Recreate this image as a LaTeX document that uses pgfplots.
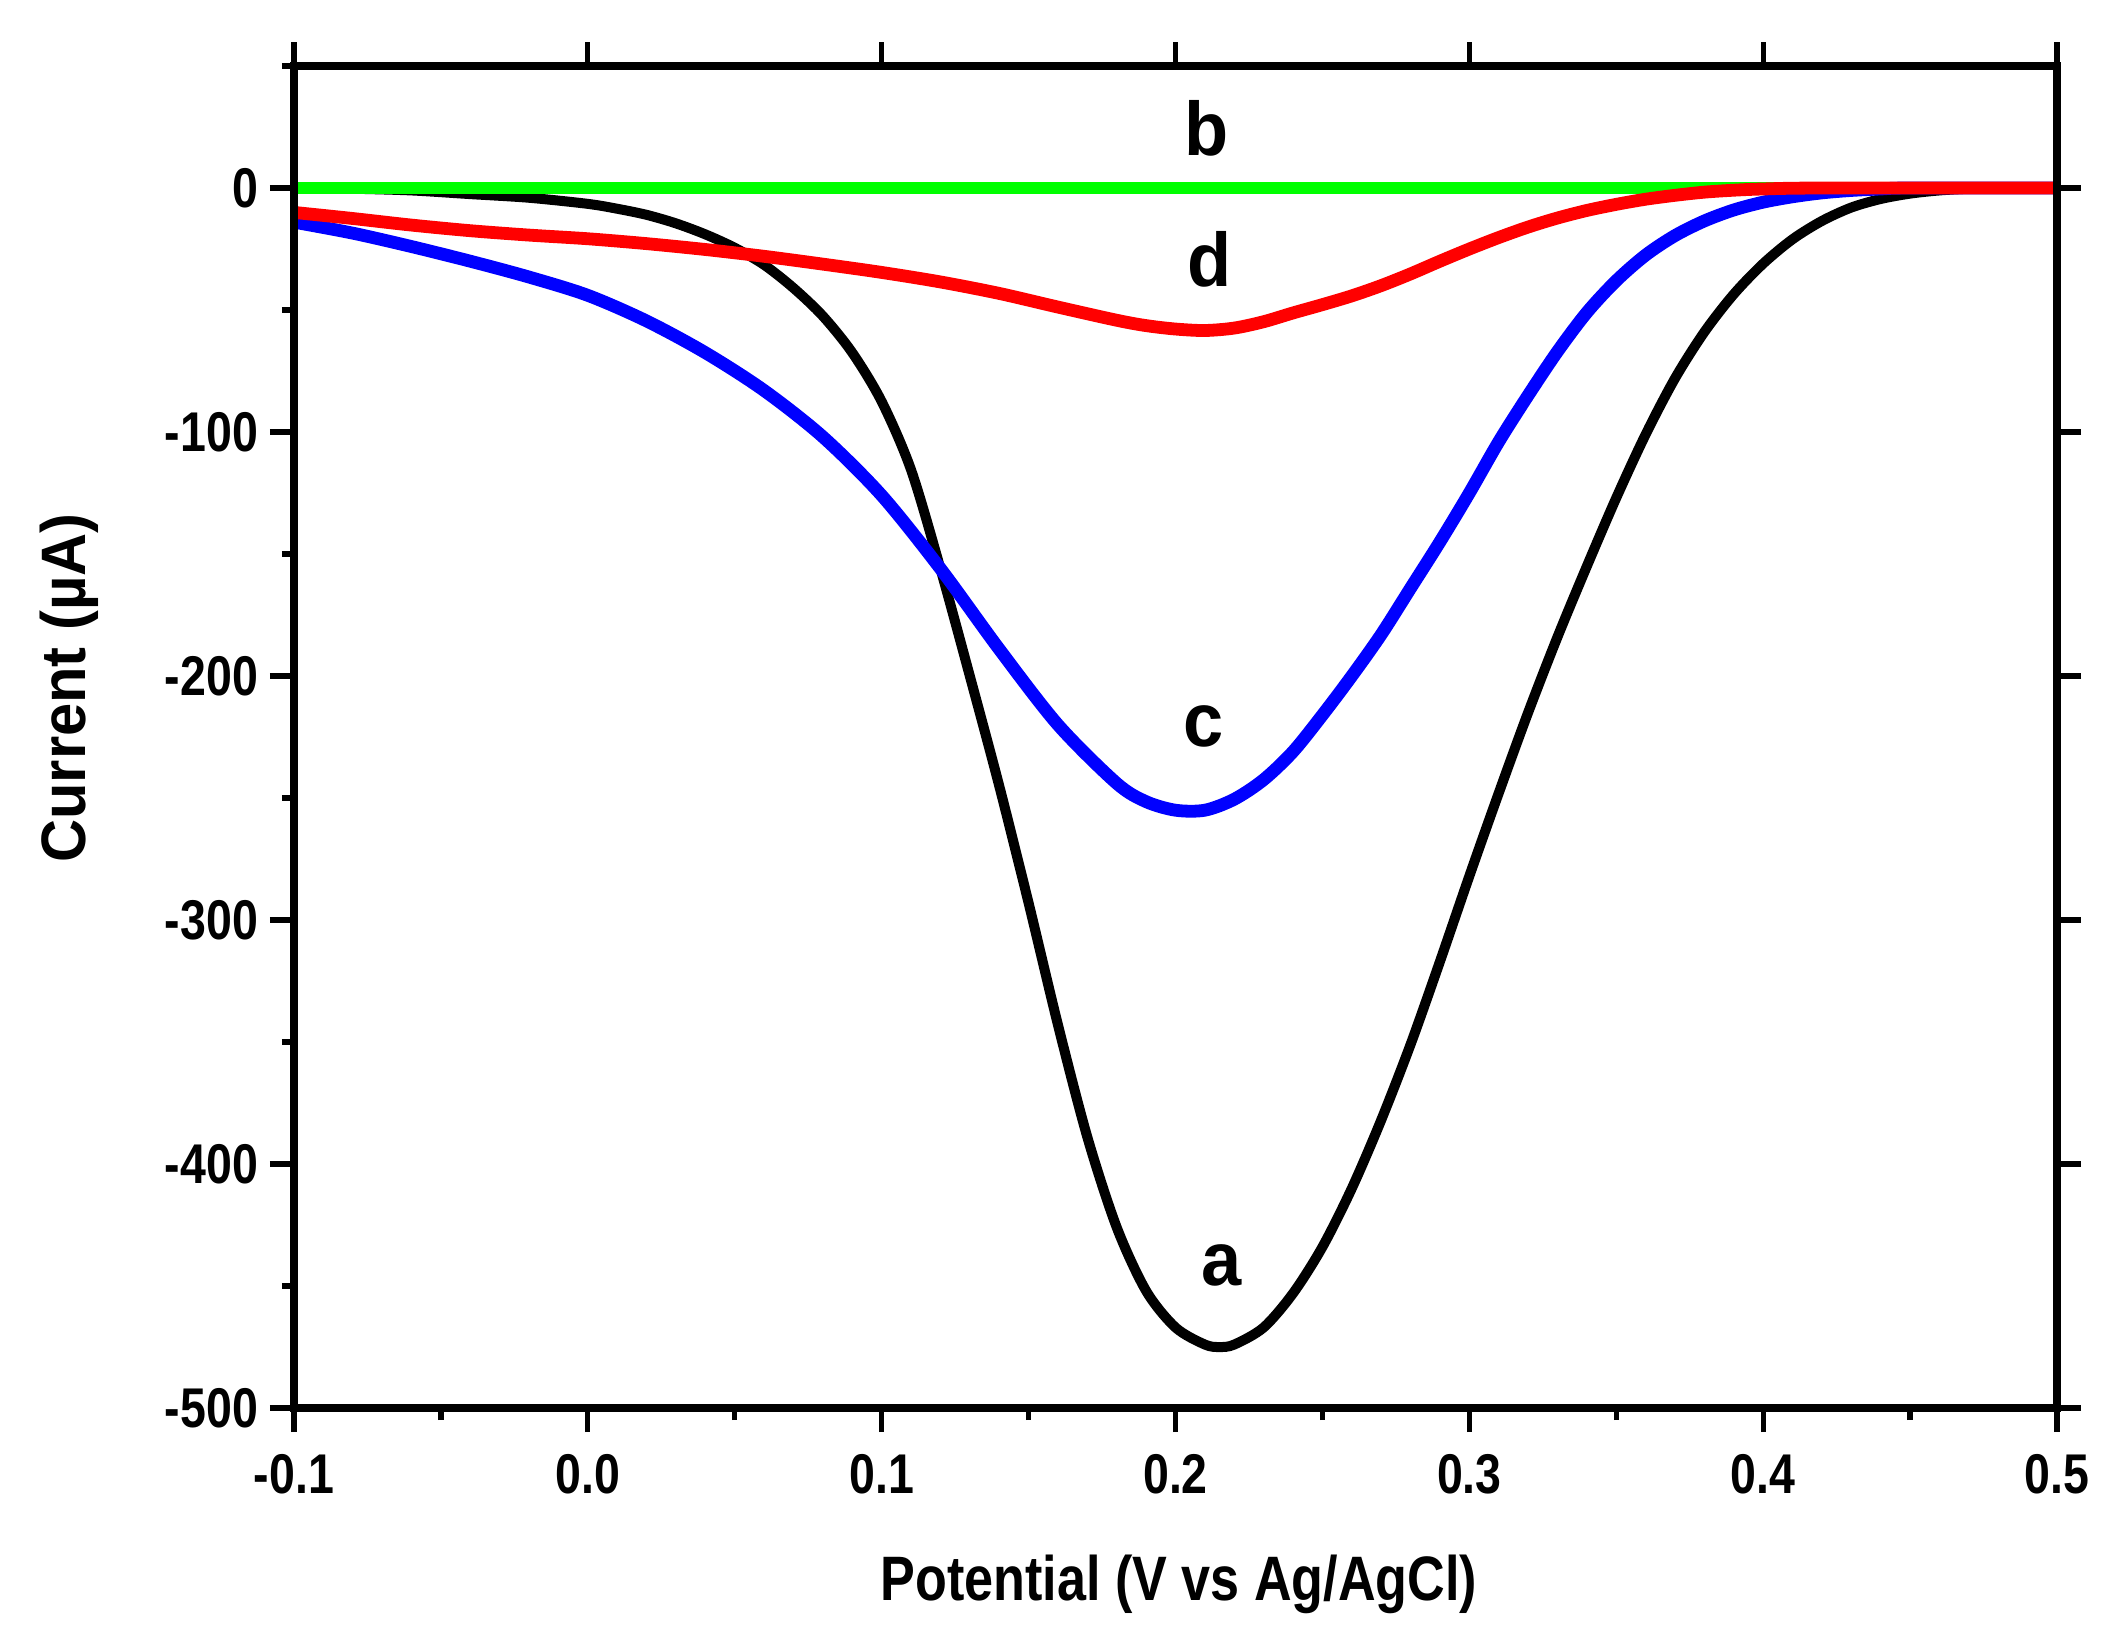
\documentclass[border=0pt]{standalone}
\usepackage{fontspec}
\setmainfont{Liberation Sans}[FakeStretch=0.83]
\newfontfamily\letterfont{Liberation Sans}[FakeStretch=0.95]
\newfontfamily\ylabfont{Liberation Sans}[FakeStretch=0.95]
\usepackage{pgfplots}
\pgfplotsset{compat=1.18}
\begin{document}
\begin{tikzpicture}
\begin{axis}[
  at={(73.5pt,59.75pt)}, anchor=south west,
  scale only axis, width=440.75pt, height=335.5pt,
  xmin=-0.1, xmax=0.5, ymin=-500, ymax=50,
  xtick={-0.1,0,0.1,0.2,0.3,0.4,0.5},
  xticklabels={-0.1,0.0,0.1,0.2,0.3,0.4,0.5},
  minor xtick={-0.05,0.05,0.15,0.25,0.35,0.45},
  ytick={-500,-400,-300,-200,-100,0},
  yticklabels={-500,-400,-300,-200,-100,0},
  minor ytick={-450,-350,-250,-150,-50,50},
  xtick pos=left, ytick pos=left,
  tick align=outside,
  major tick length=6pt, minor tick length=3pt,
  every tick/.style={black, line width=1.3pt},
  axis line style={line width=2pt},
  ticklabel style={font=\fontsize{14}{16}\selectfont\bfseries},
  xticklabel style={anchor=base, yshift=-15.25pt},
  yticklabel style={anchor=east, xshift=0.5pt},
  xlabel={Potential (V vs Ag/AgCl)},
  xlabel style={at={(axis description cs:0.502,-0.1431)}, anchor=base, font=\fontsize{15.7}{18}\selectfont\bfseries},
  ylabel={Current (µA)},
  ylabel style={at={(axis description cs:-0.1185,0.5365)}, anchor=base, font=\ylabfont\fontsize{15.7}{18}\selectfont\bfseries},
]
% a (black)
\addplot[black, line width=2.5pt, smooth, tension=0.5] coordinates {
(-0.10,0) (-0.08,-0.3) (-0.06,-1) (-0.04,-2.5) (-0.02,-4) (0.00,-6.5) (0.01,-8.5)
(0.02,-11) (0.03,-14.5) (0.04,-19) (0.05,-24.5) (0.06,-31.5) (0.07,-41) (0.08,-52.5)
(0.09,-67.5) (0.10,-87.5) (0.11,-115.5) (0.12,-156) (0.13,-200) (0.14,-245) (0.15,-293)
(0.16,-343) (0.17,-389) (0.18,-426) (0.19,-452) (0.20,-467) (0.21,-474) (0.215,-475)
(0.22,-474) (0.23,-467) (0.24,-453) (0.25,-434) (0.26,-410) (0.27,-382) (0.28,-351)
(0.29,-317) (0.30,-282) (0.31,-248) (0.32,-215) (0.33,-184) (0.34,-155) (0.35,-127)
(0.36,-101) (0.37,-78) (0.38,-59) (0.39,-43.5) (0.40,-31) (0.41,-21) (0.42,-13.5)
(0.43,-8) (0.44,-4.5) (0.45,-2.3) (0.46,-1) (0.47,-0.3) (0.48,0) (0.50,0)
};
% c (blue)
\addplot[blue, line width=3.2pt, smooth, tension=0.5] coordinates {
(-0.10,-14) (-0.08,-18.5) (-0.06,-24) (-0.04,-30) (-0.02,-36.5) (0.00,-44) (0.02,-54.5)
(0.04,-67.5) (0.06,-83) (0.08,-102) (0.10,-126) (0.12,-156) (0.14,-189) (0.16,-220)
(0.18,-244) (0.19,-251.5) (0.20,-255) (0.21,-255) (0.22,-250.5) (0.23,-242.5) (0.24,-231)
(0.25,-216) (0.26,-200) (0.27,-183) (0.28,-164) (0.29,-145) (0.30,-125) (0.31,-104)
(0.32,-85) (0.33,-67) (0.34,-51) (0.35,-38) (0.36,-27.5) (0.37,-19.5) (0.38,-13.5)
(0.39,-9) (0.40,-5.8) (0.41,-3.6) (0.42,-2) (0.43,-1) (0.44,-0.4) (0.45,0) (0.50,0)
};
% b (green)
\addplot[color={rgb,255:red,0;green,255;blue,0}, line width=3.2pt] coordinates {
(-0.10,0) (0.50,0)
};
% d (red)
\addplot[red, line width=3.2pt, smooth, tension=0.5] coordinates {
(-0.10,-10) (-0.08,-12.5) (-0.06,-15.2) (-0.04,-17.5) (-0.02,-19.3) (0.00,-20.8)
(0.02,-22.8) (0.04,-25.2) (0.06,-28) (0.08,-31.2) (0.10,-34.6) (0.12,-38.5)
(0.14,-43.2) (0.16,-48.8) (0.18,-54.2) (0.19,-56.4) (0.20,-57.8) (0.21,-58.4)
(0.22,-57.4) (0.23,-54.8) (0.24,-51.2) (0.25,-47.8) (0.26,-44.2) (0.27,-40)
(0.28,-35.2) (0.29,-30) (0.30,-25) (0.31,-20.3) (0.32,-16) (0.33,-12.3) (0.34,-9.2)
(0.35,-6.7) (0.36,-4.6) (0.37,-3) (0.38,-1.7) (0.39,-0.9) (0.40,-0.4) (0.42,0) (0.50,0)
};
\node[anchor=base, font=\letterfont\fontsize{19}{22}\selectfont\bfseries] at (axis cs:0.2107,13.5) {b};
\node[anchor=base, font=\letterfont\fontsize{19}{22}\selectfont\bfseries] at (axis cs:0.2117,-40.2) {d};
\node[anchor=base, font=\letterfont\fontsize{19}{22}\selectfont\bfseries] at (axis cs:0.2094,-228.7) {c};
\node[anchor=base, font=\letterfont\fontsize{19}{22}\selectfont\bfseries] at (axis cs:0.2158,-449.6) {a};
\end{axis}
\begin{axis}[
  at={(73.5pt,59.75pt)}, anchor=south west,
  scale only axis, width=440.75pt, height=335.5pt,
  xmin=-0.1, xmax=0.5, ymin=-500, ymax=50,
  xtick={-0.1,0,0.1,0.2,0.3,0.4,0.5},
  ytick={-500,-400,-300,-200,-100,0},
  xticklabels={}, yticklabels={},
  xtick pos=right, ytick pos=right,
  tick align=outside,
  major tick length=6pt,
  every tick/.style={black, line width=1.3pt},
  axis line style={line width=2pt},
]
\end{axis}
\pgfresetboundingbox
\useasboundingbox (0,0) rectangle (529pt,411.75pt);
\end{tikzpicture}
\end{document}
